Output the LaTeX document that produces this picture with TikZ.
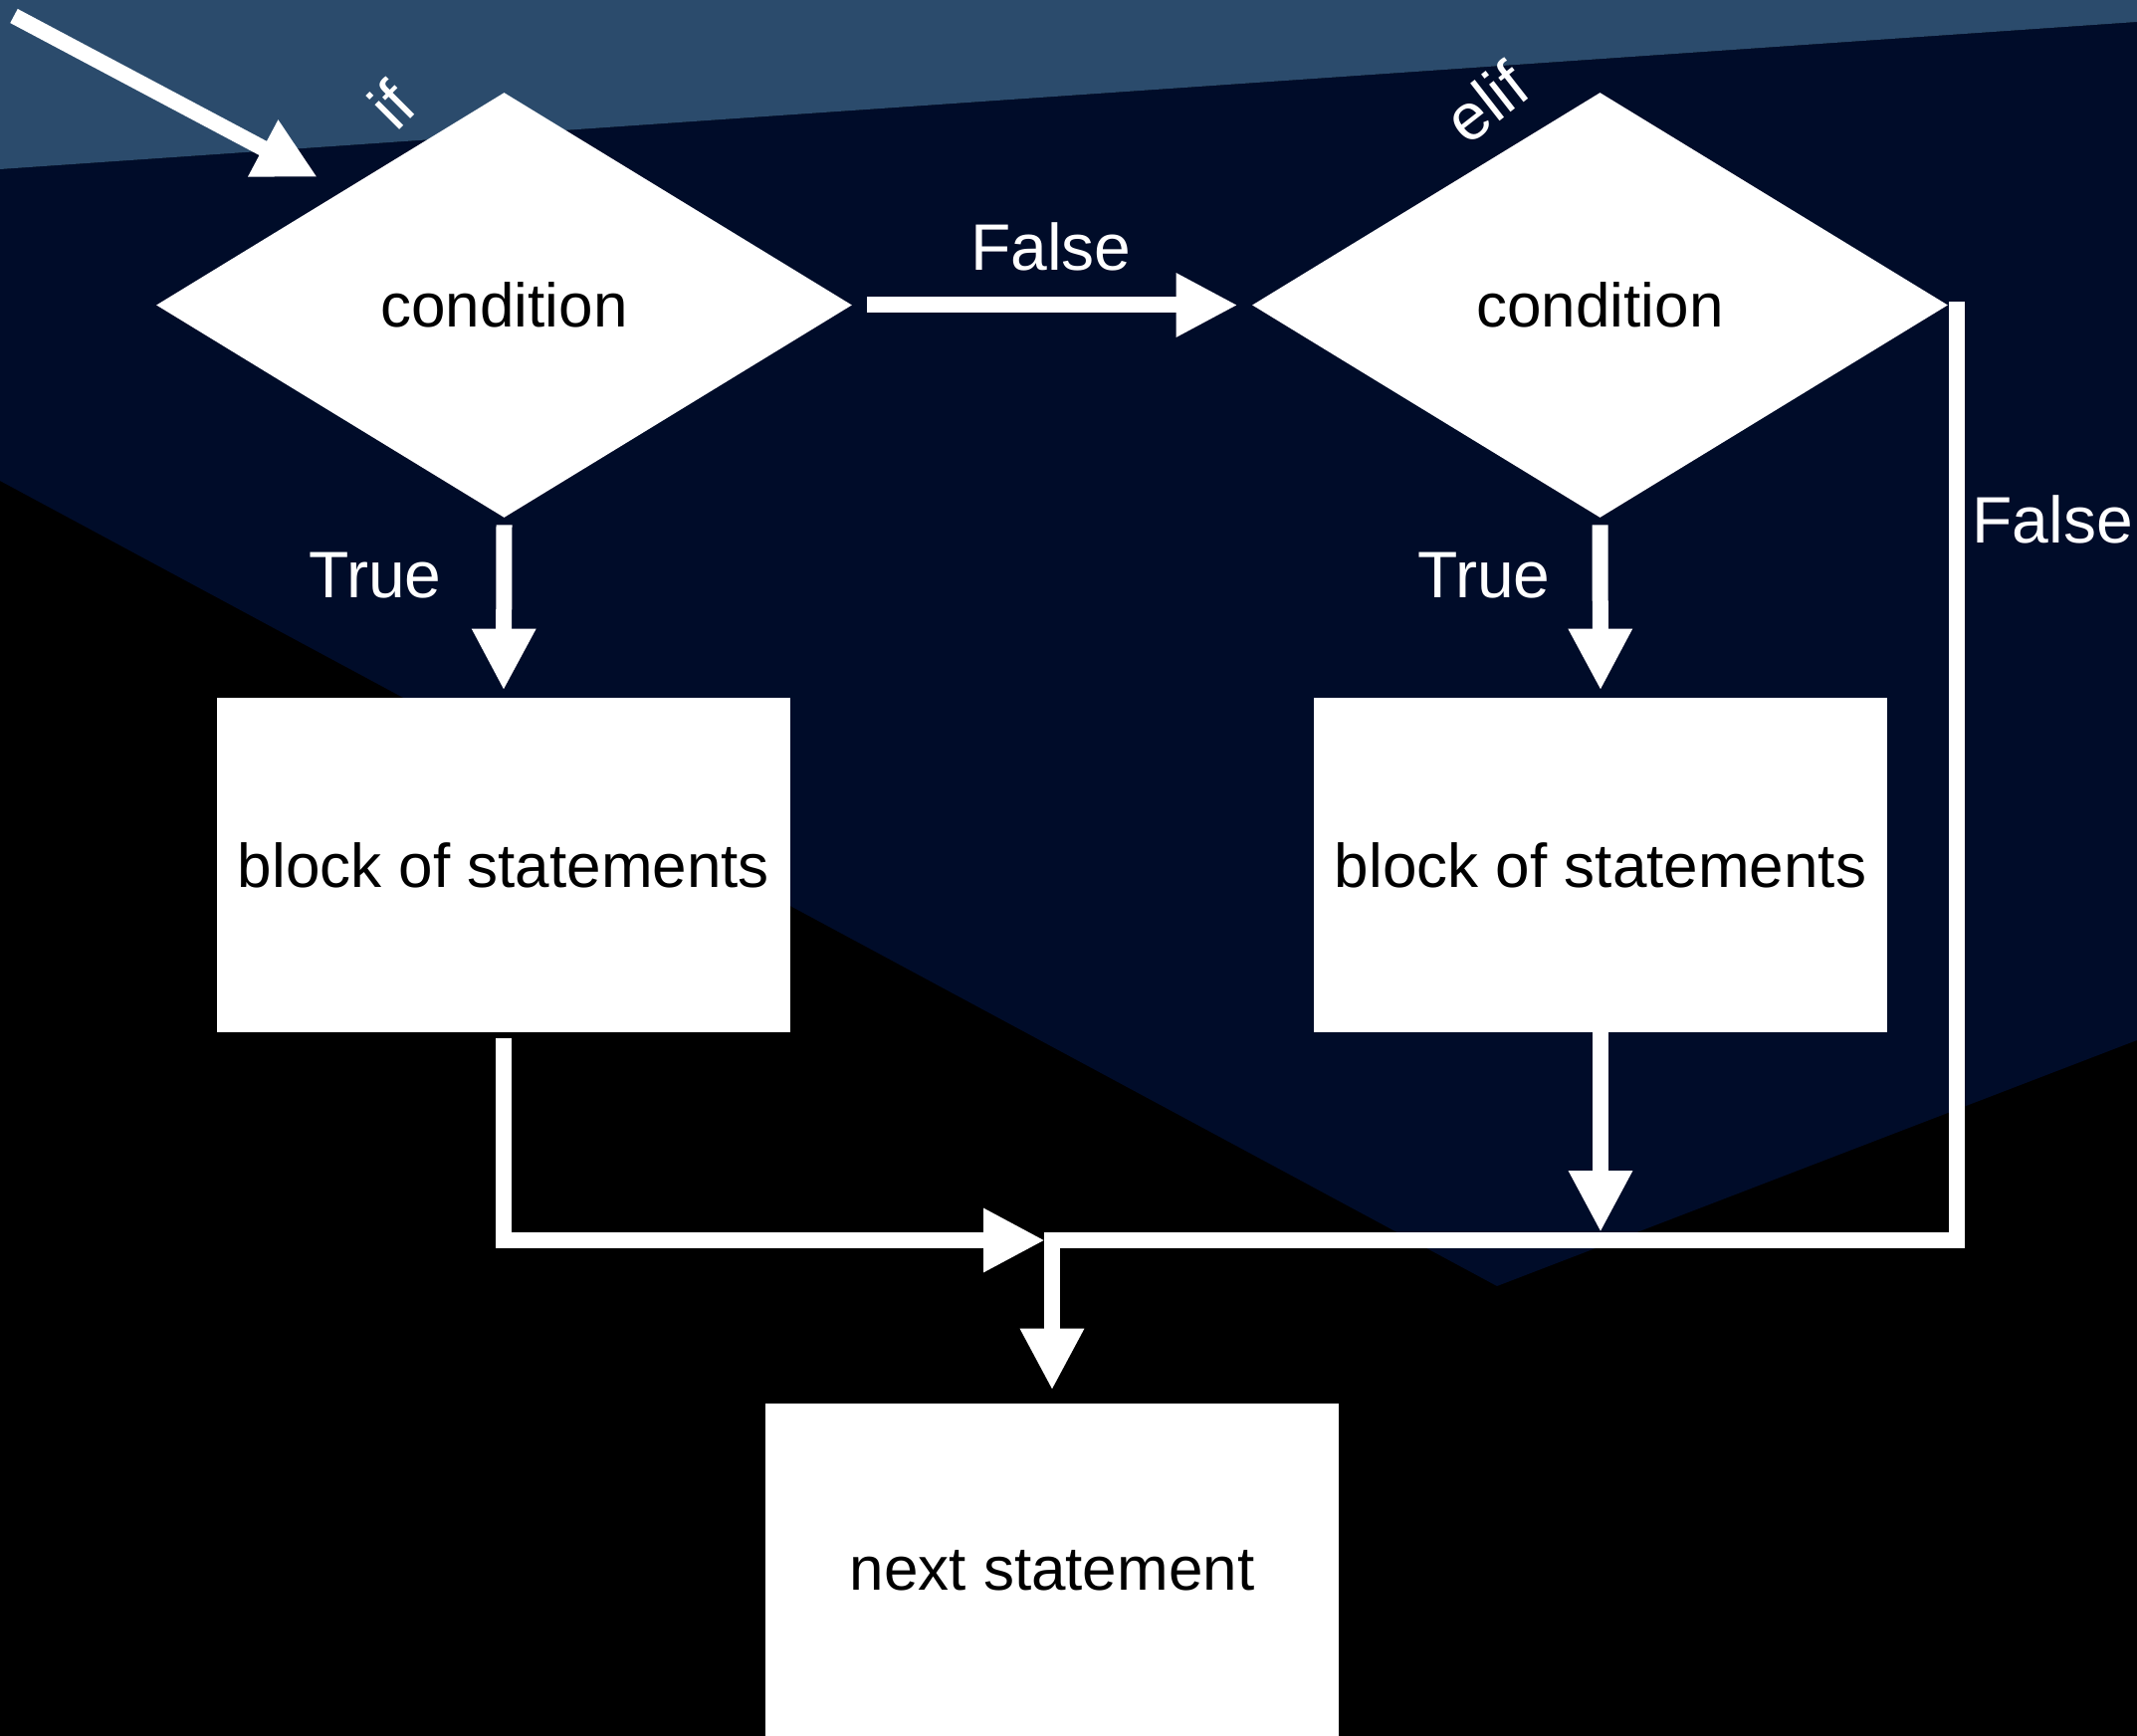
\documentclass[tikz,border=0pt]{standalone}
\usepackage{fontspec}
\setmainfont{Liberation Sans}
\usetikzlibrary{shapes.geometric,arrows.meta,calc}
\definecolor{bandblue}{HTML}{2B4B6C}
\definecolor{navy}{HTML}{000C29}
\newcommand\bxfont{\fontsize{31pt}{37pt}\selectfont}
\newcommand\lbfont{\fontsize{33pt}{40pt}\selectfont}
\tikzset{
  stbox/.style={fill=white, minimum width=288pt, minimum height=168pt, inner sep=0pt, font=\bxfont, text=black},
  cond/.style={diamond, fill=white, aspect=1.637, minimum width=349.5pt, minimum height=213.5pt, inner sep=0pt, font=\bxfont, text=black},
  lbl/.style={font=\lbfont, text=white, inner sep=0pt},
  ln/.style={draw=white, line width=8pt},
  arr/.style={ln, -{Triangle[length=31pt,width=30pt]}},
}
\begin{document}
\begin{tikzpicture}[x=0.5pt,y=-0.5pt]
\useasboundingbox (0,0) rectangle (2147,1744);
\clip (0,0) rectangle (2147,1744);
% background
\fill[black] (0,0) rectangle (2147,1744);
\fill[navy] (0,170) -- (2147,22) -- (2147,1045) -- (1504,1292) -- (0,483) -- cycle;
\fill[bandblue] (0,0) -- (2147,0) -- (2147,22) -- (0,170) -- cycle;
% nodes
\node[cond] (d1) at (506.5,306.5) {condition};
\node[cond] (d2) at (1607.5,306.5) {condition};
\node[stbox] (b1) at (506,869) {block of statements};
\node[stbox] (b2) at (1608,869) {block of statements};
\node[stbox] (b3) at (1057,1578) {next statement};
% labels
\node[lbl, rotate=45] (lif) at (393,105) {if};
\node[lbl, rotate=38] (lelif) at (1493,103) {elif};
\node[lbl, anchor=base] (lf1) at (1056,271) {False};
\node[lbl, anchor=base] (lt1) at (377,600) {True};
\node[lbl, anchor=base] (lt2) at (1491,600) {True};
\node[lbl, anchor=base west] (lf2) at (1981,545) {False};
% coordinates
\coordinate (s0) at (14,16);
\coordinate (e0) at (319,178);
\coordinate (j) at (1057,1246);
\coordinate (jt) at (1057,1238);
\coordinate (rx) at (1966,303);
% connectors
\draw[arr] (s0) -- (e0);
\draw[arr] ($(d1.east)+(15,0)$) -- ($(d2.west)+(-14,0)$);
\draw[arr] ($(d1.south)+(0,7)$) -- ($(b1.north)+(0,-7)$);
\draw[arr] ($(d2.south)+(0,7)$) -- ($(b2.north)+(0,-7)$);
\draw[ln] (rx) |- (j);
\draw[arr] ($(b1.south)+(0,6)$) |- ($(j)+(-7,0)$);
\draw[arr] (b2.south) -- (b2.south |- jt);
\draw[arr] (jt) -- ($(b3.north)+(0,-13)$);
\end{tikzpicture}
\end{document}
